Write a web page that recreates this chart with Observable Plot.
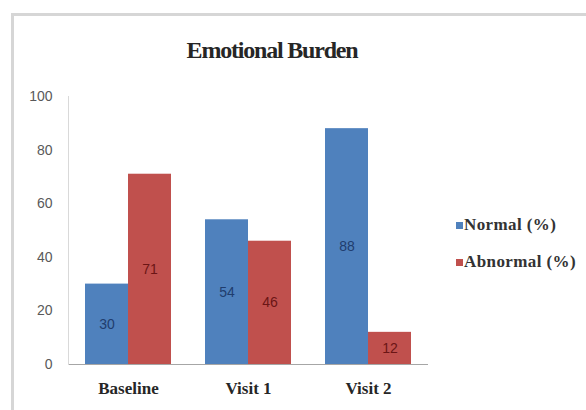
<!DOCTYPE html>
<html>
<head>
<meta charset="utf-8">
<script src="https://cdn.jsdelivr.net/npm/d3@7"></script>
<script src="https://cdn.jsdelivr.net/npm/@observablehq/plot@0.6"></script>
<style>
  html, body { margin: 0; padding: 0; background: #fff; }
  #chart { position: relative; width: 586px; height: 410px; overflow: hidden; background: #fff; }
  #chart .panel {
    position: absolute; left: 11px; top: 13px; width: 600px; height: 420px;
    border-left: 3px solid #d6d6d6; border-top: 3px solid #d6d6d6; box-sizing: border-box;
  }
  #chart .title {
    position: absolute; left: 0; top: 38px; width: 544px; text-align: center;
    font: bold 24px "Liberation Serif", "DejaVu Serif", serif; line-height: 24px;
    letter-spacing: -1.2px; color: #262626;
  }
  #chart svg { position: absolute; left: 0; top: 0; }
  #chart .legend { position: absolute; left: 456px; top: 214px; }
  #chart .legend .item {
    display: flex; align-items: center; height: 22px; margin-bottom: 15px;
    font: bold 17px "Liberation Serif", "DejaVu Serif", serif; letter-spacing: 0.4px; color: #333;
  }
  #chart .legend .swatch { width: 7px; height: 7px; margin-right: 1px; }
</style>
</head>
<body>
<div id="chart">
  <div class="panel"></div>
  <div class="title">Emotional Burden</div>
  <div class="legend"></div>
</div>
<script>
// Visits on the x axis, two series per visit
const categories = ["Baseline", "Visit 1", "Visit 2"];
const seriesNames = ["Normal (%)", "Abnormal (%)"];
const normalValues = [30, 54, 88];
const abnormalValues = [71, 46, 12];
const yTicks = [0, 20, 40, 60, 80, 100];
const seriesColors = ["#4f81bd", "#c0504d"];
const labelColors = ["#1f3d6e", "#6b1515"];

const rows = categories.flatMap((visit, i) => [
  {visit, series: seriesNames[0], value: normalValues[i]},
  {visit, series: seriesNames[1], value: abnormalValues[i]}
]);

const chart = Plot.plot({
  width: 586,
  height: 410,
  marginTop: 96,
  marginBottom: 46,
  marginLeft: 68,
  marginRight: 158,
  style: {background: "transparent", fontFamily: "'Liberation Sans', sans-serif"},
  fx: {domain: categories, paddingInner: 0, paddingOuter: 0, label: null},
  x: {domain: seriesNames, paddingInner: 0, paddingOuter: 0.38, axis: null},
  y: {domain: [0, 100], axis: null},
  color: {domain: seriesNames, range: seriesColors},
  marks: [
    Plot.barY(rows, {fx: "visit", x: "series", y: "value", fill: "series"}),
    ...seriesNames.map((name, k) =>
      Plot.text(rows.filter(d => d.series === name), {
        fx: "visit", x: "series", y: d => d.value / 2, text: d => String(d.value),
        fill: labelColors[k], fontSize: 14
      })
    ),
    Plot.ruleY([0], {stroke: "#a6a6a6", strokeWidth: 1.2}),
    Plot.frame({anchor: "left", facetAnchor: "left", stroke: "#d9d9d9"}),
    Plot.axisY({ticks: yTicks, tickSize: 0, tickPadding: 16, fontSize: 14, color: "#595959", label: null}),
    Plot.axisFx({anchor: "bottom", tickSize: 0, tickPadding: 17, label: null,
      fontSize: 17, fontWeight: "bold", fontFamily: "'Liberation Serif', serif", color: "#262626"})
  ]
});
document.getElementById("chart").appendChild(chart);

// Legend: one swatch and name per series
const legend = d3.select("#chart .legend");
seriesNames.forEach((name, k) => {
  const item = legend.append("div").attr("class", "item");
  item.append("div").attr("class", "swatch").style("background", seriesColors[k]);
  item.append("span").text(name);
});
</script>
</body>
</html>
